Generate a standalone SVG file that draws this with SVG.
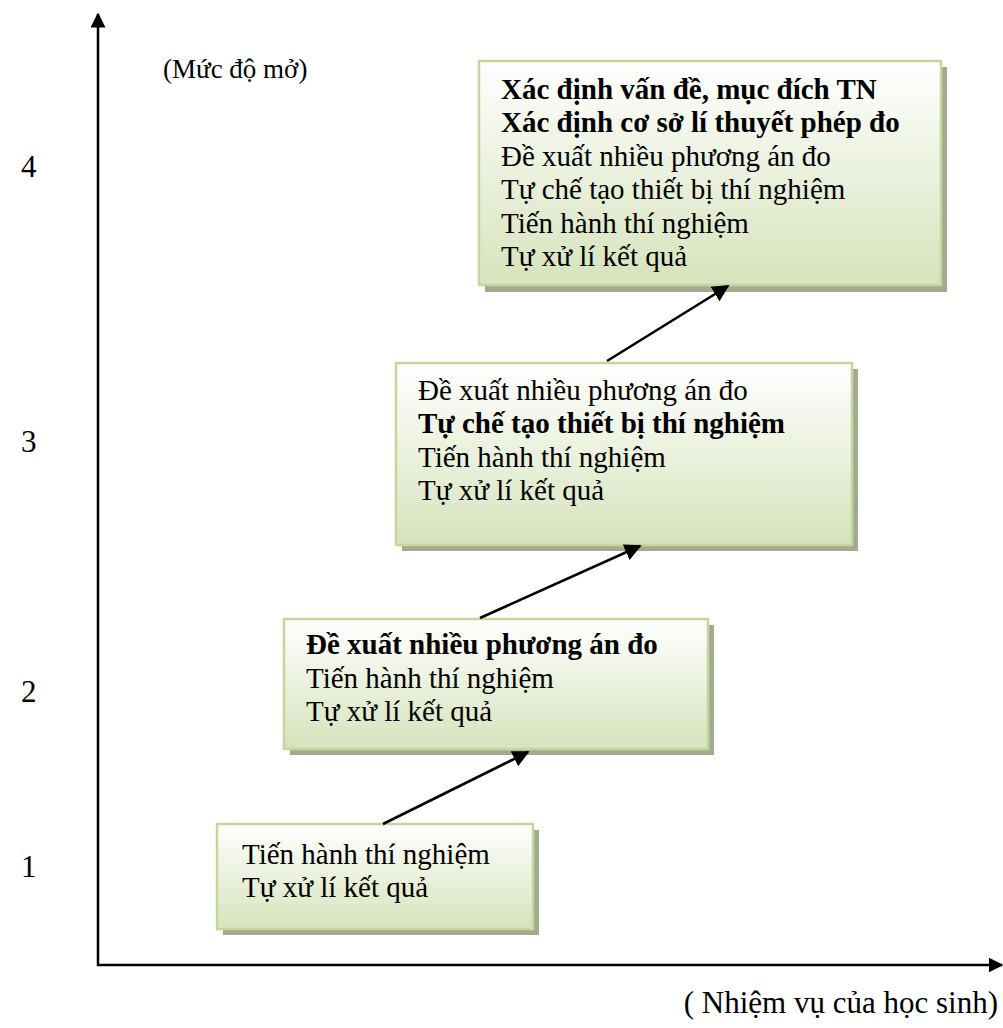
<svg xmlns="http://www.w3.org/2000/svg" width="1003" height="1028" viewBox="0 0 1003 1028">
<defs>
<linearGradient id="g" x1="0" y1="0" x2="0" y2="1">
<stop offset="0" stop-color="#ffffff"/>
<stop offset="1" stop-color="#d6e3bc"/>
</linearGradient>
<marker id="ah" viewBox="0 0 10 10" refX="9" refY="5" markerWidth="6.5" markerHeight="6.5" markerUnits="strokeWidth" orient="auto">
<path d="M0,0 L10,5 L0,10 z" fill="#000"/>
</marker>
<marker id="axh" viewBox="0 0 10 10" refX="9" refY="5" markerWidth="6" markerHeight="6" markerUnits="strokeWidth" orient="auto">
<path d="M0,0 L10,5 L0,10 z" fill="#000"/>
</marker>
</defs>
<style>
text{font-family:"Liberation Serif","Times New Roman",serif;font-size:29px;fill:#000}
.b{font-weight:bold}
.d{font-size:31px}
.yl{font-size:27px}
.xl{font-size:31px}
.box{fill:url(#g);stroke:#c3d69b;stroke-width:2.5}
.sh{fill:#a3ab8f}
.ax{stroke:#000;stroke-width:2.5;fill:none}
.cn{stroke:#000;stroke-width:2.6;fill:none}
</style>
<rect width="1003" height="1028" fill="#fff"/>
<g id="axes">
<line class="ax" x1="98" y1="966" x2="98" y2="14" marker-end="url(#axh)"/>
<line class="ax" x1="97" y1="965" x2="1002" y2="965" marker-end="url(#axh)"/>
<text class="yl" x="163" y="78">(Mức độ mở)</text>
<text class="xl" x="998" y="1013" text-anchor="end">( Nhiệm vụ của học sinh)</text>
<text class="d" x="21" y="177">4</text>
<text class="d" x="21" y="452">3</text>
<text class="d" x="21" y="702">2</text>
<text class="d" x="21" y="877">1</text>
</g>
<g id="node1">
<rect class="sh" x="223" y="830" width="316" height="105"/>
<rect class="box" x="217" y="824" width="316" height="105"/>
<text x="242" y="864">Tiến hành thí nghiệm</text>
<text x="242" y="897">Tự xử lí kết quả</text>
</g>
<g id="node2">
<rect class="sh" x="290" y="625" width="424" height="130"/>
<rect class="box" x="284" y="619" width="424" height="130"/>
<text x="306" y="654" class="b">Đề xuất nhiều phương án đo</text>
<text x="306" y="688">Tiến hành thí nghiệm</text>
<text x="306" y="721">Tự xử lí kết quả</text>
</g>
<g id="node3">
<rect class="sh" x="402" y="369" width="456" height="182"/>
<rect class="box" x="396" y="363" width="456" height="182"/>
<text x="418" y="400">Đề xuất nhiều phương án đo</text>
<text x="418" y="433" class="b">Tự chế tạo thiết bị thí nghiệm</text>
<text x="418" y="467">Tiến hành thí nghiệm</text>
<text x="418" y="500">Tự xử lí kết quả</text>
</g>
<g id="node4">
<rect class="sh" x="485" y="67" width="462" height="225"/>
<rect class="box" x="479" y="61" width="462" height="224"/>
<text x="501" y="99" class="b">Xác định vấn đề, mục đích TN</text>
<text x="501" y="132" class="b">Xác định cơ sở lí thuyết phép đo</text>
<text x="501" y="166">Đề xuất nhiều phương án đo</text>
<text x="501" y="199">Tự chế tạo thiết bị thí nghiệm</text>
<text x="501" y="233">Tiến hành thí nghiệm</text>
<text x="501" y="266">Tự xử lí kết quả</text>
</g>
<g id="connectors">
<line class="cn" x1="383" y1="824" x2="528" y2="752" marker-end="url(#ah)"/>
<line class="cn" x1="480" y1="618" x2="640" y2="546" marker-end="url(#ah)"/>
<line class="cn" x1="607" y1="361" x2="728" y2="286" marker-end="url(#ah)"/>
</g>
</svg>
